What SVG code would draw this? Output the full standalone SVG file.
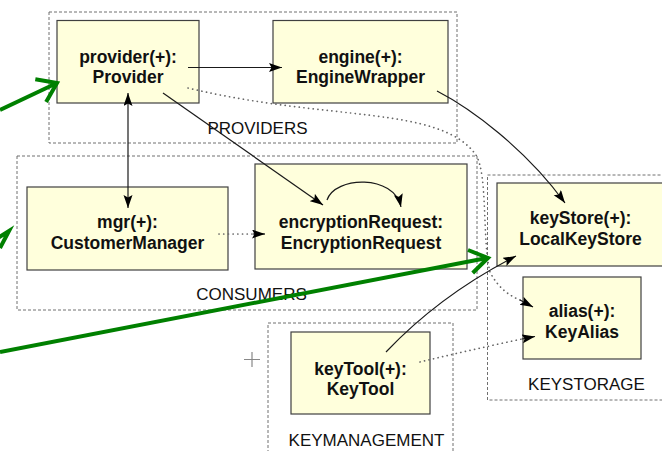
<svg xmlns="http://www.w3.org/2000/svg" width="662" height="451" viewBox="0 0 662 451">
<style>
.pkg{fill:none;stroke:#707070;stroke-width:1;stroke-dasharray:3,2}
.pl{font-family:"Liberation Sans",Arial,sans-serif;font-size:17px;fill:#111;text-anchor:middle}
.box{fill:#ffffdc;stroke:#404040;stroke-width:1.2}
.nt{font-family:"Liberation Sans",Arial,sans-serif;font-size:17.5px;font-weight:bold;fill:#111;text-anchor:middle}
.ln{fill:none;stroke:#1a1a1a;stroke-width:1.2}
.dt{fill:none;stroke:#666;stroke-width:1.7;stroke-dasharray:0.1,4.6;stroke-linecap:round}
.gr{fill:none;stroke:#008000;stroke-width:4}
</style>
<defs>
<marker id="ah" markerUnits="userSpaceOnUse" markerWidth="14" markerHeight="10" refX="13" refY="4.5" orient="auto-start-reverse" viewBox="0 0 14 10">
<path d="M0,0 L13,4.5 L0,9 L2.5,4.5 z" fill="#000"/>
</marker>
</defs>
<rect width="662" height="451" fill="#fff"/>
<g id="PROVIDERS">
<rect class="pkg" x="49" y="12" width="408" height="131"/>
<text class="pl" x="257.5" y="134">PROVIDERS</text>
</g>
<g id="CONSUMERS">
<rect class="pkg" x="17" y="156" width="460" height="154"/>
<text class="pl" x="251.5" y="300">CONSUMERS</text>
</g>
<g id="KEYSTORAGE">
<rect class="pkg" x="487.5" y="175" width="200" height="225"/>
<text class="pl" x="586.5" y="390">KEYSTORAGE</text>
</g>
<g id="KEYMANAGEMENT">
<rect class="pkg" x="268" y="323" width="185" height="140"/>
<text class="pl" x="366.5" y="446">KEYMANAGEMENT</text>
</g>
<g id="provider">
<rect class="box" x="57" y="20.5" width="142" height="82.5"/>
<text class="nt" x="128" y="63">provider(+):</text>
<text class="nt" x="128" y="83">Provider</text>
</g>
<g id="engine">
<rect class="box" x="273" y="20.5" width="175" height="82.5"/>
<text class="nt" x="360.5" y="63">engine(+):</text>
<text class="nt" x="360.5" y="83">EngineWrapper</text>
</g>
<g id="mgr">
<rect class="box" x="27" y="187" width="201" height="83"/>
<text class="nt" x="127.5" y="228">mgr(+):</text>
<text class="nt" x="127.5" y="249">CustomerManager</text>
</g>
<g id="encryptionRequest">
<rect class="box" x="255" y="164" width="212" height="105"/>
<text class="nt" x="361" y="228">encryptionRequest:</text>
<text class="nt" x="361" y="249">EncryptionRequest</text>
</g>
<g id="keyStore">
<rect class="box" x="497" y="183" width="168" height="83"/>
<text class="nt" x="580.5" y="224">keyStore(+):</text>
<text class="nt" x="580.5" y="245">LocalKeyStore</text>
</g>
<g id="alias">
<rect class="box" x="523" y="277" width="118" height="82"/>
<text class="nt" x="582" y="317">alias(+):</text>
<text class="nt" x="582" y="338">KeyAlias</text>
</g>
<g id="keyTool">
<rect class="box" x="291" y="332" width="139" height="82"/>
<text class="nt" x="360.5" y="375">keyTool(+):</text>
<text class="nt" x="360.5" y="395">KeyTool</text>
</g>
<g id="cross">
<path d="M244,359.5 H260 M252,352 V367" stroke="#888" stroke-width="1.2" fill="none"/>
</g>
<g id="connectors">
<path class="ln" d="M188,67.5 H282" marker-end="url(#ah)"/>
<path class="ln" d="M128,93 V208" marker-start="url(#ah)" marker-end="url(#ah)"/>
<path class="ln" d="M163,93 L323,205" marker-end="url(#ah)"/>
<path class="ln" d="M327,200 C335,176 394,174 401,207" marker-end="url(#ah)"/>
<path class="dt" d="M219,234 H253"/>
<path class="ln" d="M253,234 H265" marker-end="url(#ah)" stroke="none"/>
<path class="ln" d="M437,91 C470,108 525,148 565,203" marker-end="url(#ah)"/>
<path class="dt" d="M188,88 C330,122 440,105 476,155 C488,175 482,240 490,272 Q500,292 520,300"/>
<path class="ln" stroke="none" d="M520,300 L533,307" marker-end="url(#ah)"/>
<path class="ln" d="M386,352 Q440,295 516,256" marker-end="url(#ah)"/>
<path class="dt" d="M420,362 Q470,350 522,339"/>
<path class="ln" stroke="none" d="M522,339 L535,336.5" marker-end="url(#ah)"/>
<path class="gr" d="M0,110 L57,83"/>
<polyline class="gr" points="35.3,79.3 57,83 46.1,102.1"/>
<polyline class="gr" points="-2,238 9,231 0,248"/>
<path class="gr" d="M0,352 L487,258"/>
<polyline class="gr" points="468,250 488,258 472.7,273"/>
</g>
</svg>
